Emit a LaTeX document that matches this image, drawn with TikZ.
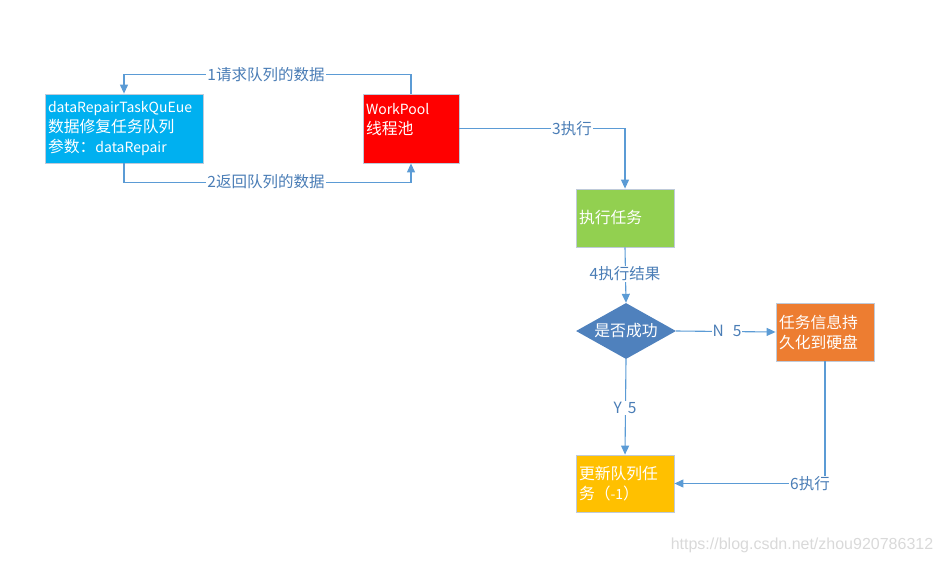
\documentclass[tikz,border=0pt]{standalone}
\usepackage{fontspec}
\setmainfont{Noto Sans CJK SC}
\newfontfamily\wmfont{Liberation Sans}
\usetikzlibrary{shapes.geometric,arrows.meta}
\definecolor{linec}{HTML}{5B9BD5}
\definecolor{labc}{HTML}{4A7DB6}
\definecolor{boxedge}{HTML}{BFCAD9}
\definecolor{cyanbox}{HTML}{00B0F0}
\definecolor{redbox}{HTML}{FF0000}
\definecolor{greenbox}{HTML}{92D050}
\definecolor{orangebox}{HTML}{ED7D31}
\definecolor{yellowbox}{HTML}{FFC000}
\definecolor{diabox}{HTML}{4F81BD}
\newcommand\lat[1]{{\fontsize{14}{20}\selectfont #1}}
\tikzset{
  box/.style={rectangle, draw=boxedge, line width=0.8pt, text=white, align=left,
    inner xsep=3pt, inner ysep=0pt, font=\fontsize{15.8}{20}\selectfont},
  conn/.style={draw=linec, line width=1.1pt, -{Triangle[width=8pt,length=9pt]}},
  lab/.style={fill=white, text=labc, inner sep=1pt, font=\fontsize{15.5}{18}\selectfont},
}
\begin{document}
\begin{tikzpicture}[x=1pt,y=-1pt]
\useasboundingbox (0,0) rectangle (941,563);
\node[box, fill=cyanbox, minimum width=158pt, minimum height=69pt, text width=152pt] (queue) at (124,128.5)
  {\lat{dataRepairTaskQuEue}\\数据修复任务队列\\参数：\lat{dataRepair}};
\node[box, fill=redbox, minimum width=96pt, minimum height=69pt, text width=90pt] (work) at (411,128.5)
  {\lat{WorkPool}\\线程池\\~};
\node[box, fill=greenbox, minimum width=98pt, minimum height=58pt, text width=92pt] (task) at (625,218)
  {执行任务};
\node[diamond, fill=diabox, text=white, inner sep=0pt, aspect=1.78, minimum width=100pt, minimum height=56pt,
  font=\fontsize{15.8}{20}\selectfont] (dia) at (626,331) {是否成功};
\node[box, fill=orangebox, minimum width=98pt, minimum height=58pt, text width=92pt] (disk) at (825,332)
  {任务信息持\\久化到硬盘};
\node[box, fill=yellowbox, minimum width=98pt, minimum height=57pt, text width=92pt] (upd) at (625,483.5)
  {更新队列任\\务（\lat{-1}）};

\draw[conn] (work.north) -- ++(0,-19) -| (queue.north);
\draw[conn] (queue.south) -- ++(0,19) -| (work.south);
\draw[conn] (work.east) -| (task.north);
\draw[conn] (task.south) -- (dia.north);
\draw[conn] (dia.east) -- (disk.west);
\draw[conn] (dia.south) -- (upd.north);
\draw[conn] (disk.south) |- (upd.east);

\node[lab] (l1) at (266,75) {1请求队列的数据};
\node[lab] (l2) at (266,182) {2返回队列的数据};
\node[lab] (l3) at (572,128.5) {3执行};
\node[lab] (l4) at (625,274) {4执行结果};
\node[lab] (l5) at (727,331) {N\hspace{9pt}5};
\node[lab] (l5y) at (625,408) {Y\hspace{6pt}5};
\node[lab] (l6) at (810,484) {6执行};

\node[text=black!15, font=\wmfont\fontsize{16}{18}\selectfont] (wm) at (802,545) {https://blog.csdn.net/zhou920786312};
\end{tikzpicture}
\end{document}
